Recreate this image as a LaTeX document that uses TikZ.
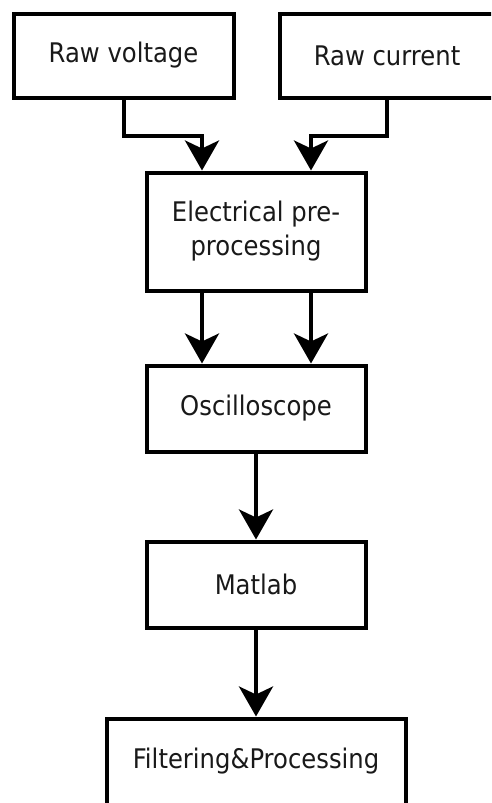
\documentclass[tikz,border=0pt]{standalone}
\usepackage{fontspec}
\newfontfamily\dvsans[FakeStretch=0.9]{DejaVu Sans}
\usetikzlibrary{arrows.meta}
\begin{document}
\begin{tikzpicture}[x=1pt,y=-1pt,
  blk/.style={draw, line width=4pt, inner sep=0pt, align=center,
    font=\dvsans\fontsize{27pt}{34pt}\selectfont, text=black!90},
  arr/.style={line width=4pt, -{Stealth[length=30pt,width=34pt,inset=8pt]}}]
\useasboundingbox (0,0) rectangle (491,803);
\clip (0,0) rectangle (491,803);
\fill[white] (0,0) rectangle (491,803);
\node[blk, minimum width=220pt, minimum height=84pt] (v) at (123.5,55.5) {Raw voltage};
\node[blk, minimum width=215pt, minimum height=84pt] (c) at (387,55.5) {Raw current};
\node[blk, minimum width=219pt, minimum height=118pt] (e) at (256,231.5) {Electrical pre-\\processing};
\node[blk, minimum width=219pt, minimum height=86pt] (o) at (256,408.5) {Oscilloscope};
\node[blk, minimum width=219pt, minimum height=86pt] (m) at (256,584.5) {Matlab};
\node[blk, minimum width=299pt, minimum height=86pt] (f) at (256,761.5) {Filtering\&Processing};
\draw[arr] (v.south) -- ++(0,36) -| ([xshift=-54pt]e.north);
\draw[arr] (c.south) -- ++(0,36) -| ([xshift=55pt]e.north);
\draw[arr] ([xshift=-54pt]e.south) -- ([xshift=-54pt]o.north);
\draw[arr] ([xshift=55pt]e.south) -- ([xshift=55pt]o.north);
\draw[arr] (o.south) -- (m.north);
\draw[arr] (m.south) -- (f.north);
\end{tikzpicture}
\end{document}
